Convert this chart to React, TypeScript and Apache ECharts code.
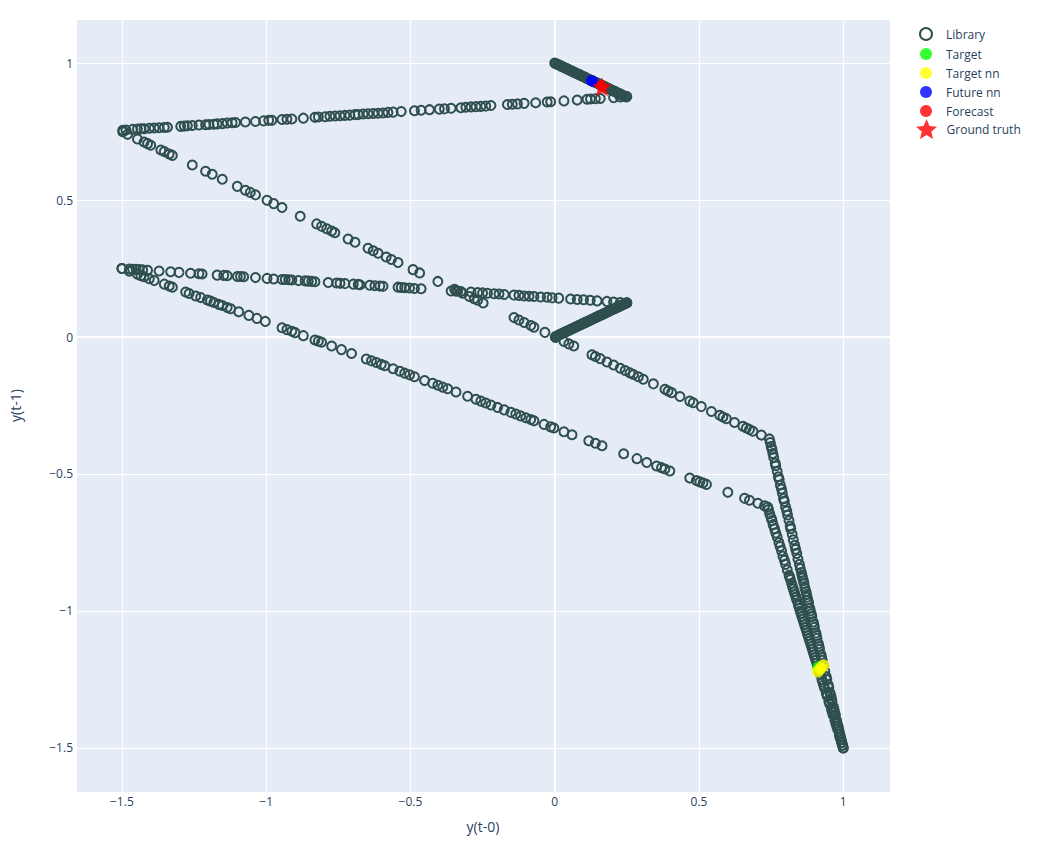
import React, { useEffect, useRef } from "react";
import * as echarts from "echarts";

type P = [number, number];

const seriesNames = ["Library", "Target", "Target nn", "Future nn", "Forecast", "Ground truth"];
const axisTicks = [-1.5, -1, -0.5, 0, 0.5, 1];
const xAxisTitle = "y(t-0)";
const yAxisTitle = "y(t-1)";

// Library: upper, nearly flat line
const libUpperFlat: P[] = [
  [-1.497, 0.755], [-1.486, 0.756], [-1.463, 0.758], [-1.446, 0.759], [-1.434, 0.76], [-1.423, 0.76],
  [-1.405, 0.762], [-1.388, 0.763], [-1.371, 0.764], [-1.353, 0.765], [-1.342, 0.766], [-1.296, 0.769],
  [-1.284, 0.77], [-1.273, 0.771], [-1.256, 0.772], [-1.233, 0.774], [-1.21, 0.775], [-1.198, 0.776],
  [-1.181, 0.777], [-1.17, 0.778], [-1.152, 0.779], [-1.135, 0.781], [-1.118, 0.782], [-1.106, 0.783],
  [-1.072, 0.785], [-1.037, 0.787], [-1.009, 0.789], [-0.991, 0.791], [-0.98, 0.791], [-0.945, 0.794],
  [-0.928, 0.795], [-0.911, 0.796], [-0.871, 0.799], [-0.831, 0.802], [-0.819, 0.803], [-0.796, 0.804],
  [-0.779, 0.806], [-0.761, 0.807], [-0.744, 0.808], [-0.727, 0.809], [-0.71, 0.81], [-0.692, 0.812],
  [-0.681, 0.812], [-0.664, 0.814], [-0.647, 0.815], [-0.629, 0.816], [-0.612, 0.817], [-0.595, 0.818],
  [-0.578, 0.82], [-0.56, 0.821], [-0.532, 0.823], [-0.486, 0.826], [-0.463, 0.828], [-0.434, 0.83],
  [-0.4, 0.832], [-0.382, 0.833], [-0.359, 0.835], [-0.325, 0.837], [-0.308, 0.839], [-0.29, 0.84],
  [-0.273, 0.841], [-0.256, 0.842], [-0.239, 0.843], [-0.221, 0.845], [-0.164, 0.849], [-0.147, 0.85],
  [-0.129, 0.851], [-0.106, 0.853], [-0.066, 0.855], [-0.026, 0.858], [-0.014, 0.859], [0.032, 0.862],
  [0.078, 0.865], [0.112, 0.868], [0.124, 0.869], [0.141, 0.87], [0.158, 0.871], [0.204, 0.874],
  [0.227, 0.876], [0.25, 0.878],
];

// Library: dense band at the top
const libTopBand: P[] = [
  [0.0, 1.0], [0.004, 0.998], [0.009, 0.996], [0.013, 0.994], [0.018, 0.991], [0.022, 0.989],
  [0.027, 0.987], [0.031, 0.985], [0.036, 0.982], [0.041, 0.98], [0.045, 0.978], [0.05, 0.975],
  [0.055, 0.973], [0.059, 0.971], [0.064, 0.968], [0.068, 0.966], [0.073, 0.964], [0.078, 0.961],
  [0.082, 0.959], [0.087, 0.957], [0.091, 0.955], [0.096, 0.952], [0.101, 0.95], [0.105, 0.948],
  [0.11, 0.945], [0.114, 0.943], [0.119, 0.941], [0.124, 0.938], [0.128, 0.936], [0.133, 0.934],
  [0.138, 0.931], [0.142, 0.929], [0.147, 0.927], [0.151, 0.925], [0.156, 0.922], [0.161, 0.92],
  [0.165, 0.918], [0.17, 0.915], [0.175, 0.913], [0.179, 0.911], [0.184, 0.908], [0.188, 0.906],
  [0.193, 0.904], [0.198, 0.901], [0.202, 0.899], [0.207, 0.897], [0.211, 0.895], [0.216, 0.892],
  [0.221, 0.89], [0.225, 0.888], [0.23, 0.885], [0.234, 0.883], [0.239, 0.881], [0.244, 0.878],
  [0.248, 0.876],
];

// Library: upper diagonal
const libUpperDiag: P[] = [
  [-1.497, 0.749], [-1.48, 0.74], [-1.446, 0.723], [-1.423, 0.712], [-1.411, 0.706], [-1.4, 0.7],
  [-1.365, 0.683], [-1.353, 0.677], [-1.336, 0.668], [-1.325, 0.663], [-1.256, 0.628], [-1.21, 0.605],
  [-1.187, 0.594], [-1.152, 0.576], [-1.1, 0.55], [-1.072, 0.536], [-1.055, 0.528], [-1.037, 0.519],
  [-0.997, 0.499], [-0.974, 0.487], [-0.945, 0.473], [-0.882, 0.441], [-0.825, 0.413], [-0.808, 0.404],
  [-0.79, 0.395], [-0.773, 0.387], [-0.762, 0.381], [-0.716, 0.358], [-0.692, 0.346], [-0.647, 0.324],
  [-0.629, 0.315], [-0.612, 0.306], [-0.584, 0.292], [-0.566, 0.283], [-0.543, 0.272], [-0.491, 0.246],
  [-0.468, 0.234], [-0.405, 0.203], [-0.347, 0.174], [-0.336, 0.168], [-0.319, 0.16], [-0.296, 0.148],
  [-0.279, 0.14], [-0.267, 0.134], [-0.248, 0.124], [-0.141, 0.071], [-0.124, 0.062], [-0.106, 0.053],
  [-0.083, 0.042], [-0.072, 0.036], [-0.034, 0.017],
];

// Library: middle, nearly flat line
const libMidFlat: P[] = [
  [-1.5, 0.25], [-1.474, 0.248], [-1.463, 0.247], [-1.451, 0.247], [-1.44, 0.246], [-1.428, 0.245],
  [-1.411, 0.244], [-1.371, 0.241], [-1.331, 0.238], [-1.302, 0.236], [-1.262, 0.233], [-1.233, 0.231],
  [-1.222, 0.23], [-1.17, 0.226], [-1.147, 0.225], [-1.135, 0.224], [-1.1, 0.221], [-1.089, 0.221],
  [-1.078, 0.22], [-1.037, 0.217], [-0.997, 0.214], [-0.974, 0.212], [-0.945, 0.21], [-0.934, 0.21],
  [-0.922, 0.209], [-0.911, 0.208], [-0.888, 0.206], [-0.865, 0.205], [-0.854, 0.204], [-0.842, 0.203],
  [-0.831, 0.202], [-0.785, 0.199], [-0.756, 0.197], [-0.744, 0.196], [-0.727, 0.195], [-0.698, 0.193],
  [-0.681, 0.192], [-0.675, 0.191], [-0.641, 0.189], [-0.623, 0.187], [-0.606, 0.186], [-0.595, 0.185],
  [-0.543, 0.182], [-0.532, 0.181], [-0.52, 0.18], [-0.503, 0.179], [-0.486, 0.177], [-0.463, 0.176],
  [-0.359, 0.168], [-0.342, 0.167], [-0.325, 0.166], [-0.29, 0.164], [-0.267, 0.162], [-0.25, 0.161],
  [-0.233, 0.16], [-0.21, 0.158], [-0.193, 0.157], [-0.175, 0.155], [-0.141, 0.153], [-0.124, 0.152],
  [-0.106, 0.15], [-0.089, 0.149], [-0.072, 0.148], [-0.049, 0.146], [-0.026, 0.145], [-0.009, 0.143],
  [0.014, 0.142], [0.055, 0.139], [0.078, 0.137], [0.1, 0.136], [0.123, 0.134], [0.147, 0.132],
  [0.181, 0.13], [0.204, 0.128], [0.227, 0.126], [0.25, 0.125],
];

// Library: dense band in the middle
const libMidBand: P[] = [
  [0.002, 0.001], [0.006, 0.003], [0.011, 0.0055], [0.016, 0.008], [0.02, 0.01], [0.025, 0.0125],
  [0.029, 0.0145], [0.034, 0.017], [0.038, 0.019], [0.043, 0.0215], [0.048, 0.024], [0.052, 0.026],
  [0.057, 0.0285], [0.061, 0.0305], [0.066, 0.033], [0.071, 0.0355], [0.075, 0.0375], [0.08, 0.04],
  [0.084, 0.042], [0.089, 0.0445], [0.094, 0.047], [0.098, 0.049], [0.103, 0.0515], [0.107, 0.0535],
  [0.112, 0.056], [0.117, 0.0585], [0.121, 0.0605], [0.126, 0.063], [0.13, 0.065], [0.135, 0.0675],
  [0.14, 0.07], [0.144, 0.072], [0.149, 0.0745], [0.153, 0.0765], [0.158, 0.079], [0.163, 0.0815],
  [0.167, 0.0835], [0.172, 0.086], [0.176, 0.088], [0.181, 0.0905], [0.186, 0.093], [0.19, 0.095],
  [0.195, 0.0975], [0.199, 0.0995], [0.204, 0.102], [0.209, 0.1045], [0.213, 0.1065], [0.218, 0.109],
  [0.222, 0.111], [0.227, 0.1135], [0.232, 0.116], [0.236, 0.118], [0.241, 0.1205], [0.245, 0.1225],
  [0.25, 0.125],
];

// Library: lower long diagonal
const libLowerDiag: P[] = [
  [-1.5, 0.25], [-1.474, 0.24], [-1.446, 0.229], [-1.434, 0.224], [-1.423, 0.22], [-1.405, 0.213],
  [-1.388, 0.206], [-1.353, 0.193], [-1.336, 0.186], [-1.325, 0.182], [-1.279, 0.164], [-1.267, 0.159],
  [-1.244, 0.15], [-1.227, 0.144], [-1.204, 0.135], [-1.193, 0.131], [-1.181, 0.126], [-1.164, 0.119],
  [-1.152, 0.115], [-1.135, 0.108], [-1.123, 0.103], [-1.095, 0.092], [-1.06, 0.079], [-1.032, 0.068],
  [-1.003, 0.057], [-0.945, 0.034], [-0.928, 0.027], [-0.911, 0.021], [-0.9, 0.016], [-0.871, 0.005],
  [-0.831, -0.011], [-0.819, -0.015], [-0.808, -0.019], [-0.773, -0.033], [-0.739, -0.046], [-0.704, -0.06],
  [-0.653, -0.08], [-0.635, -0.087], [-0.618, -0.093], [-0.601, -0.1], [-0.589, -0.105], [-0.56, -0.116],
  [-0.537, -0.125], [-0.52, -0.132], [-0.503, -0.138], [-0.486, -0.145], [-0.451, -0.159], [-0.423, -0.169],
  [-0.405, -0.176], [-0.388, -0.183], [-0.371, -0.189], [-0.342, -0.201], [-0.302, -0.216], [-0.273, -0.227],
  [-0.256, -0.234], [-0.239, -0.241], [-0.221, -0.248], [-0.198, -0.257], [-0.175, -0.266], [-0.152, -0.275],
  [-0.135, -0.281], [-0.118, -0.288], [-0.1, -0.295], [-0.083, -0.301], [-0.072, -0.306], [-0.037, -0.319],
  [-0.014, -0.328], [-0.003, -0.332], [0.032, -0.346], [0.06, -0.357], [0.118, -0.379], [0.141, -0.388],
  [0.164, -0.397], [0.239, -0.426], [0.285, -0.444], [0.319, -0.458], [0.353, -0.471], [0.37, -0.477],
  [0.382, -0.482], [0.399, -0.489], [0.468, -0.515], [0.491, -0.524], [0.503, -0.529], [0.514, -0.533],
  [0.526, -0.538], [0.6, -0.567], [0.658, -0.589], [0.675, -0.596], [0.704, -0.607], [0.727, -0.616],
  [0.738, -0.621],
];

// Library: middle diagonal (right of zero)
const libMidDiag: P[] = [
  [0.003, -0.002], [0.032, -0.016], [0.049, -0.025], [0.066, -0.033], [0.129, -0.065], [0.141, -0.071],
  [0.158, -0.079], [0.181, -0.091], [0.204, -0.102], [0.227, -0.114], [0.244, -0.122], [0.261, -0.131],
  [0.273, -0.137], [0.29, -0.145], [0.307, -0.154], [0.342, -0.171], [0.382, -0.191], [0.393, -0.197],
  [0.405, -0.203], [0.434, -0.217], [0.468, -0.234], [0.48, -0.24], [0.508, -0.254], [0.543, -0.272],
  [0.572, -0.286], [0.583, -0.292], [0.595, -0.298], [0.623, -0.312], [0.652, -0.326], [0.664, -0.332],
  [0.675, -0.338], [0.687, -0.344], [0.716, -0.358], [0.744, -0.372],
];

// Library: steep branch starting at the upper corner
const libSteepUpper: P[] = [
  [0.747, -0.385], [0.75, -0.4], [0.753, -0.41], [0.756, -0.425], [0.759, -0.44], [0.764, -0.46],
  [0.766, -0.47], [0.771, -0.49], [0.775, -0.51], [0.778, -0.52], [0.782, -0.54], [0.786, -0.555],
  [0.789, -0.57], [0.793, -0.59], [0.796, -0.6], [0.8, -0.62], [0.804, -0.635], [0.807, -0.65],
  [0.812, -0.67], [0.816, -0.69], [0.818, -0.7], [0.823, -0.72], [0.827, -0.74], [0.832, -0.76],
  [0.835, -0.775], [0.839, -0.79], [0.843, -0.81], [0.848, -0.83], [0.851, -0.845], [0.855, -0.86],
  [0.859, -0.88], [0.864, -0.9], [0.867, -0.915], [0.871, -0.93], [0.875, -0.95], [0.88, -0.97],
  [0.884, -0.99], [0.886, -1.0], [0.891, -1.02], [0.896, -1.04], [0.9, -1.06], [0.905, -1.08],
  [0.909, -1.1], [0.914, -1.12], [0.918, -1.14], [0.923, -1.16], [0.927, -1.18], [0.932, -1.2],
  [0.936, -1.22], [0.943, -1.25], [0.948, -1.27], [0.954, -1.3], [0.959, -1.32], [0.966, -1.35],
  [0.97, -1.37], [0.977, -1.4], [0.982, -1.42], [0.988, -1.45], [0.993, -1.47], [0.998, -1.49],
  [0.857, -0.87], [0.862, -0.89], [0.873, -0.94], [0.877, -0.96], [0.889, -1.01], [0.898, -1.05],
  [0.907, -1.09], [0.916, -1.13], [0.925, -1.17], [0.941, -1.24], [0.95, -1.28], [0.957, -1.31],
  [0.961, -1.33], [0.968, -1.36], [0.973, -1.38], [0.979, -1.41], [0.984, -1.43], [0.986, -1.44],
  [0.991, -1.46], [0.995, -1.48], [1.0, -1.5],
];

// Library: steep branch starting at the lower corner
const libSteepLower: P[] = [
  [0.741, -0.63], [0.745, -0.645], [0.75, -0.66], [0.753, -0.67], [0.757, -0.685], [0.762, -0.7],
  [0.766, -0.715], [0.771, -0.73], [0.777, -0.75], [0.781, -0.765], [0.786, -0.78], [0.791, -0.8],
  [0.796, -0.815], [0.8, -0.83], [0.806, -0.85], [0.812, -0.87], [0.817, -0.885], [0.821, -0.9],
  [0.827, -0.92], [0.833, -0.94], [0.839, -0.96], [0.844, -0.975], [0.848, -0.99], [0.854, -1.01],
  [0.86, -1.03], [0.866, -1.05], [0.872, -1.07], [0.878, -1.09], [0.884, -1.11], [0.89, -1.13],
  [0.896, -1.15], [0.902, -1.17], [0.908, -1.19], [0.914, -1.21], [0.92, -1.23], [0.929, -1.26],
  [0.935, -1.28], [0.944, -1.31], [0.95, -1.33], [0.959, -1.36], [0.965, -1.38], [0.974, -1.41],
  [0.98, -1.43], [0.988, -1.46], [0.994, -1.48], [1.0, -1.5],
  [0.814, -0.875], [0.824, -0.91], [0.83, -0.93], [0.836, -0.95], [0.845, -0.98],
  [0.851, -1.0], [0.857, -1.02], [0.863, -1.04], [0.869, -1.06], [0.875, -1.08], [0.881, -1.1],
  [0.887, -1.12], [0.893, -1.14], [0.899, -1.16], [0.905, -1.18], [0.911, -1.2], [0.917, -1.22],
  [0.926, -1.25], [0.932, -1.27], [0.941, -1.3], [0.953, -1.34], [0.962, -1.37], [0.971, -1.4],
  [0.977, -1.42], [0.986, -1.45], [0.992, -1.47], [0.997, -1.49],
];

const target: P[] = [[0.914, -1.206]];
const targetNN: P[] = [[0.912, -1.221], [0.931, -1.199], [0.921, -1.21]];
const futureNN: P[] = [[0.127, 0.936], [0.133, 0.933]];
const forecast: P[] = [[0.161, 0.918]];
const groundTruth: P[] = [[0.164, 0.914]];

const library: P[] = [
  ...libUpperFlat, ...libTopBand, ...libUpperDiag, ...libMidFlat, ...libMidBand,
  ...libLowerDiag, ...libMidDiag, ...libSteepUpper, ...libSteepLower,
];

const STAR =
  "path://M12,2 L14.94,8.95 L22.5,9.6 L16.76,14.55 L18.49,21.9 L12,18 L5.51,21.9 L7.24,14.55 L1.5,9.6 L9.06,8.95 Z";

const FONT = '"Open Sans", verdana, arial, sans-serif';
const TXT = "#2a3f5f";

const fmt = (v: number) => {
  if (!axisTicks.some((t) => Math.abs(t - v) < 1e-6)) return "";
  if (Math.abs(v) < 1e-9) return "0";
  return v < 0 ? "\u2212" + String(Math.abs(v)) : String(v);
};

export default function App() {
  const ref = useRef<HTMLDivElement>(null);
  useEffect(() => {
    if (!ref.current) return;
    const chart = echarts.init(ref.current, undefined, { renderer: "svg" });
    const axisCommon = {
      type: "value" as const,
      axisLine: { show: false },
      axisTick: { show: false },
      splitLine: { show: true, lineStyle: { color: "#ffffff", width: 1 } },
      nameLocation: "middle" as const,
      nameTextStyle: { fontFamily: FONT, fontSize: 14, color: TXT },
    };
    chart.setOption({
      animation: false,
      backgroundColor: "#ffffff",
      textStyle: { fontFamily: FONT },
      grid: {
        left: 73,
        top: 19,
        width: 817,
        height: 773,
        show: true,
        backgroundColor: "#E5ECF6",
        borderWidth: 0,
      },
      legend: [
        {
          data: seriesNames.slice(0, 5),
          orient: "vertical",
          left: 919,
          top: 27,
          padding: 0,
          itemWidth: 30,
          itemHeight: 12,
          itemGap: 7,
          selectedMode: false,
          textStyle: { fontFamily: FONT, fontSize: 12, color: TXT, lineHeight: 12 },
        },
        {
          data: [seriesNames[5]],
          orient: "vertical",
          left: 916,
          top: 119,
          padding: 0,
          itemWidth: 30,
          itemHeight: 20,
          selectedMode: false,
          textStyle: { fontFamily: FONT, fontSize: 12, color: TXT },
        },
      ],
      xAxis: {
        ...axisCommon,
        min: -1.659,
        max: 1.162,
        name: xAxisTitle,
        nameGap: 27,
        axisLabel: { formatter: fmt, fontFamily: FONT, fontSize: 12, color: TXT, margin: 3 },
      },
      yAxis: {
        ...axisCommon,
        min: -1.661,
        max: 1.161,
        name: yAxisTitle,
        nameGap: 54,
        axisLabel: { formatter: fmt, fontFamily: FONT, fontSize: 12, color: TXT, margin: 3 },
      },
      series: [
        {
          name: seriesNames[0],
          type: "scatter",
          data: library,
          symbol: "circle",
          symbolSize: 9,
          silent: true,
          itemStyle: { color: "rgba(0,0,0,0)", borderColor: "#2F4F4F", borderWidth: 2, opacity: 1 },
          markLine: {
            silent: true,
            symbol: "none",
            z: 1,
            label: { show: false },
            lineStyle: { color: "#ffffff", width: 2, type: "solid" },
            data: [{ xAxis: 0 }, { yAxis: 0 }],
          },
        },
        {
          name: seriesNames[1],
          type: "scatter",
          data: target,
          symbol: "circle",
          symbolSize: 12,
          silent: true,
          itemStyle: { color: "#00FF00" },
        },
        {
          name: seriesNames[2],
          type: "scatter",
          data: targetNN,
          symbol: "circle",
          symbolSize: 12,
          silent: true,
          itemStyle: { color: "#FFFF00" },
        },
        {
          name: seriesNames[3],
          type: "scatter",
          data: futureNN,
          symbol: "circle",
          symbolSize: 11,
          silent: true,
          itemStyle: { color: "#0000FF" },
        },
        {
          name: seriesNames[4],
          type: "scatter",
          data: forecast,
          symbol: "circle",
          symbolSize: 11,
          silent: true,
          itemStyle: { color: "#FF0000" },
        },
        {
          name: seriesNames[5],
          type: "scatter",
          data: groundTruth,
          symbol: STAR,
          symbolSize: 19,
          silent: true,
          itemStyle: { color: "#FF0000" },
        },
      ],
    });
    return () => chart.dispose();
  }, []);
  return (
    <div
      ref={ref}
      style={{ position: "absolute", left: 0, top: 0, width: 1043, height: 843 }}
    />
  );
}
